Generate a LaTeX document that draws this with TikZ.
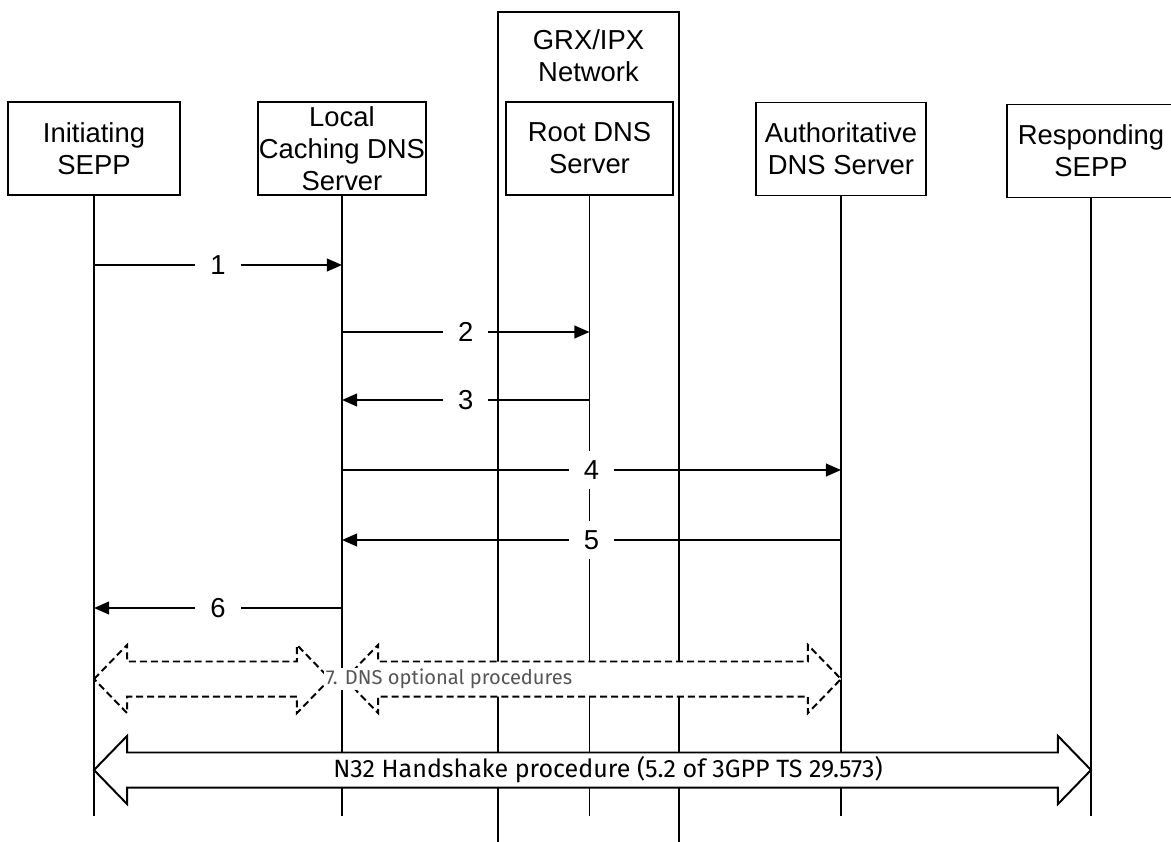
\documentclass[tikz,border=0pt]{standalone}
\usepackage{fontspec}
\setmainfont{Liberation Sans}
\newfontfamily\procfont{Fira Sans}
\usetikzlibrary{calc,arrows.meta}
\definecolor{optgray}{HTML}{555555}
\def\headlen{23.5pt}
\def\headhw{24.2pt}
\def\shafthw{12.45pt}
\def\fatarrow[#1](#2)(#3){\draw[#1] let \p1=(#2), \p2=(#3) in (\p1) -- (\x1+\headlen,\y1+\headhw) -- (\x1+\headlen,\y1+\shafthw) -- (\x2-\headlen,\y1+\shafthw) -- (\x2-\headlen,\y1+\headhw) -- (\p2) -- (\x2-\headlen,\y1-\headhw) -- (\x2-\headlen,\y1-\shafthw) -- (\x1+\headlen,\y1-\shafthw) -- (\x1+\headlen,\y1-\headhw) -- cycle;}
\tikzset{
  box/.style={draw, line width=1.4pt, inner sep=0pt, align=center, minimum height=2.325cm, font=\fontsize{19.5}{22.8}\selectfont},
  life/.style={line width=1.4pt},
  msg/.style={line width=1.4pt, -{Triangle[length=10.7pt,width=9pt]}},
  num/.style={fill=white, inner sep=0pt, minimum width=1.125cm, minimum height=0.95cm, font=\fontsize{19.5}{22.8}\selectfont},
  optarrow/.style={line width=1.4pt, dash pattern=on 5pt off 2.8pt, fill=white},
  hsarrow/.style={line width=1.4pt, fill=white}
}
\begin{document}
\begin{tikzpicture}[x=0.025cm, y=-0.025cm]
			%%%%% START %%%%%
			\useasboundingbox (0,0) rectangle (1171,842);
			
			\node[box, minimum width=4.3cm] (init) at (94,148.5) {Initiating\\SEPP};
			\node[box, minimum width=4.2cm] (local) at (342,148.5) {Local\\Caching DNS\\Server};
			\node[box, minimum width=4.175cm] (root) at (589.5,148.5) {Root DNS\\Server};
			\node[box, minimum width=4.25cm] (auth) at (841,149) {Authoritative\\DNS Server};
			\node[box, minimum width=4.2cm] (resp) at (1091,151) {Responding\\SEPP};
			
			\draw[life] (498,842) -- (498,12) -- (679,12) -- (679,842);
			\node[align=center, font=\fontsize{19.5}{22.8}\selectfont] (grx) at (588.5,56) {GRX/IPX\\Network};
			
			\foreach \n in {init,local,root,auth,resp}
				\draw[life] (\n.south) -- (\n |- 0,816);
			
			\draw[msg] (init |- 0,265) -- node[num] {1} (local |- 0,265);
			\draw[msg] (local |- 0,332) -- node[num] {2} (root |- 0,332);
			\draw[msg] (root |- 0,400) -- node[num] {3} (local |- 0,400);
			\draw[msg] (local |- 0,470) -- node[num] {4} (auth |- 0,470);
			\draw[msg] (auth |- 0,540) -- node[num] {5} (local |- 0,540);
			\draw[msg] (local |- 0,608) -- node[num] {6} (init |- 0,608);
			
			\coordinate (opt1) at (330,679);
			\coordinate (opt2) at (345,679);
			\fatarrow[optarrow](init |- 0,679)(opt1)
			\fatarrow[optarrow](opt2)(auth |- 0,679)
			\node[fill=white, inner sep=1pt, text=optgray, font=\procfont\fontsize{14.3}{16}\selectfont] (opt) at (449,679) {7. DNS optional procedures};
			
			\fatarrow[hsarrow](init |- 0,770)(resp |- 0,770)
			\node[inner sep=1pt, font=\procfont\fontsize{17.8}{20}\selectfont] (n32) at (608,770) {N32 Handshake procedure (5.2 of 3GPP TS 29.573)};
			
			%%%%% END %%%%%
\end{tikzpicture}
\end{document}
